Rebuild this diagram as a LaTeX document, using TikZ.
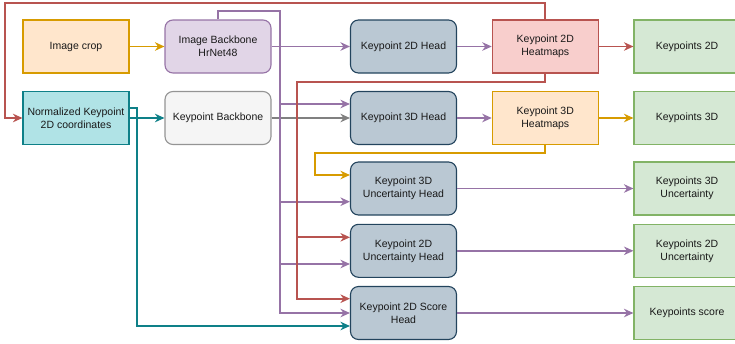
\documentclass[tikz,border=0pt]{standalone}
\usepackage{fontspec}
\setmainfont{Liberation Sans}
\usetikzlibrary{arrows.meta}
\definecolor{orS}{HTML}{D79B00}\definecolor{orF}{HTML}{FFE6CC}
\definecolor{puS}{HTML}{9673A6}\definecolor{puF}{HTML}{E1D5E7}
\definecolor{teS}{HTML}{0E8088}\definecolor{teF}{HTML}{B0E3E6}
\definecolor{grS}{HTML}{808080}\definecolor{grF}{HTML}{F5F5F5}
\definecolor{grB}{HTML}{666666}
\definecolor{blS}{HTML}{23445D}\definecolor{blF}{HTML}{BAC8D3}
\definecolor{reS}{HTML}{B85450}\definecolor{reF}{HTML}{F8CECC}
\definecolor{gnS}{HTML}{82B366}\definecolor{gnF}{HTML}{D5E8D4}
\begin{document}
\begin{tikzpicture}[x=1pt,y=-1pt,
  box/.style={draw, line width=1.1pt, minimum width=106pt, minimum height=53pt, align=center,
    font=\fontsize{10.5}{13}\selectfont, inner sep=2pt, text=black!90},
  rbox/.style={box, rounded corners=8pt},
  orbox/.style={box, draw=orS, fill=orF},
  pubox/.style={rbox, draw=puS, fill=puF},
  tebox/.style={box, draw=teS, fill=teF},
  grbox/.style={rbox, draw=grB!70, fill=grF},
  blbox/.style={rbox, draw=blS, fill=blF},
  rebox/.style={box, draw=reS, fill=reF},
  gnbox/.style={box, draw=gnS, fill=gnF},
  conn/.style={line width=1.8pt, -{Stealth[length=9.5pt,width=8.5pt,inset=3pt]}}]
\useasboundingbox (0,0) rectangle (735,343);
\clip (0,0) rectangle (735,343);
% nodes
\node[orbox] (crop) at (76,46.5) {Image crop};
\node[pubox] (ib) at (218,46.5) {Image Backbone\\HrNet48};
\node[tebox] (nk) at (76,118) {Normalized Keypoint\\2D coordinates};
\node[grbox] (kb) at (218,118) {Keypoint Backbone};
\node[blbox] (h2d) at (403.5,46.5) {Keypoint 2D Head};
\node[rebox] (hm2) at (545.3,46.5) {Keypoint 2D\\Heatmaps};
\node[gnbox] (k2) at (687,46.5) {Keypoints 2D};
\node[blbox] (h3d) at (403.5,118) {Keypoint 3D Head};
\node[orbox] (hm3) at (545.3,118) {Keypoint 3D\\Heatmaps};
\node[gnbox] (k3) at (687,118) {Keypoints 3D};
\node[blbox] (u3) at (403.5,188.5) {Keypoint 3D\\Uncertainty Head};
\node[gnbox] (ku3) at (687,188.5) {Keypoints 3D\\Uncertainty};
\node[blbox] (u2) at (403.5,250.8) {Keypoint 2D\\Uncertainty Head};
\node[gnbox] (ku2) at (687,250.8) {Keypoints 2D\\Uncertainty};
\node[blbox] (sc) at (403.5,313) {Keypoint 2D Score\\Head};
\node[gnbox] (ks) at (687,313) {Keypoints score};
% bus coordinates
\coordinate (pTop) at (280,11);
\coordinate (rTop) at (5,2.7);
\coordinate (rMid) at (297,81.7);
\coordinate (oMid) at (315,152.7);
\coordinate (tBus) at (137,326);
% straight connectors
\draw[conn,orS] (crop) -- (ib);
\draw[conn,teS] (nk) -- (kb);
\draw[conn,puS] (ib) -- (h2d);
\draw[conn,grS] (kb) -- (h3d);
\draw[conn,puS] (h2d) -- (hm2);
\draw[conn,reS] (hm2) -- (k2);
\draw[conn,puS] (h3d) -- (hm3);
\draw[conn,orS] (hm3) -- (k3);
\draw[conn,puS] (u3) -- (ku3);
\draw[conn,puS] (u2) -- (ku2);
\draw[conn,puS] (sc) -- (ks);
% purple trunk from image backbone
\draw[conn,puS] (ib.north) |- (pTop) -- (280,313) -- (sc.west);
\draw[conn,puS] (280,104) -- ([yshift=14pt]h3d.west);
\draw[conn,puS] (280,201.7) -- ([yshift=-13.2pt]u3.west);
\draw[conn,puS] (280,264) -- ([yshift=-13.2pt]u2.west);
% red feedback to normalized keypoints
\draw[conn,reS] (hm2.north) |- (rTop) |- (nk.west);
% red from heatmaps to uncertainty/score heads
\draw[conn,reS] (hm2.south) |- (rMid) -- (297,298.7) -- ([yshift=14.3pt]sc.west);
\draw[conn,reS] (297,237.3) -- ([yshift=13.5pt]u2.west);
% orange from 3D heatmaps
\draw[conn,orS] (hm3.south) |- (oMid) |- ([yshift=13.5pt]u3.west);
% teal to score head
\draw[conn,teS] ([yshift=10pt]nk.east) -| (tBus) -- ([yshift=-13pt]sc.west);
\end{tikzpicture}
\end{document}
